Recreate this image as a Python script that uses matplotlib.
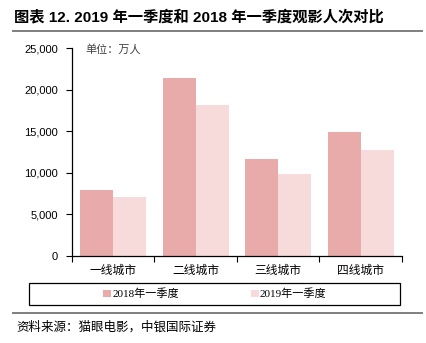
import numpy as np
import matplotlib
matplotlib.use("Agg")
import matplotlib.pyplot as plt
from matplotlib.lines import Line2D
from matplotlib.patches import Rectangle, Patch
from matplotlib.ticker import FuncFormatter

CJK = ["Noto Sans CJK SC", "DejaVu Sans"]
plt.rcParams["font.family"] = ["Liberation Sans", "Noto Sans CJK SC"]

categories = ["一线城市", "二线城市", "三线城市", "四线城市"]
series_names = ["2018年一季度", "2019年一季度"]
q1_2018 = [7950, 21450, 11600, 14900]
q1_2019 = [7050, 18150, 9850, 12750]
colors = ["#E9AAAA", "#F7DADA"]

W, H = 427, 343
fig = plt.figure(figsize=(W / 100, H / 100), dpi=100)
ax = fig.add_axes([72 / W, 1 - 256 / H, 330 / W, 208 / H])

x = np.arange(len(categories))
bw = 0.4
ax.bar(x - bw / 2, q1_2018, bw, color=colors[0], edgecolor="none")
ax.bar(x + bw / 2, q1_2019, bw, color=colors[1], edgecolor="none")

ax.set_xlim(-0.5, len(categories) - 0.5)
ax.set_ylim(0, 25000)
ax.set_yticks(np.arange(0, 25001, 5000))
ax.yaxis.set_major_formatter(FuncFormatter(lambda v, _: f"{int(v):,}"))
ax.tick_params(axis="y", direction="out", length=4, width=0.8, labelsize=8, pad=6)

ax.set_xticks(x)
ax.set_xticklabels(categories, fontsize=8.5, family=CJK)
ax.set_xticks(np.arange(-0.5, len(categories)), minor=True)
ax.tick_params(axis="x", which="major", length=0, pad=6)
ax.tick_params(axis="x", which="minor", direction="out", length=4, width=0.8)

for side in ("top", "right"):
    ax.spines[side].set_visible(False)
for side in ("left", "bottom"):
    ax.spines[side].set_linewidth(0.9)
    ax.spines[side].set_color("black")

ax.text(0.04, 0.995, "单位：万人", transform=ax.transAxes, fontsize=8,
        family=CJK, color="#404040", va="center", ha="left")

# title and rules
fig.text(14 / W, 1 - 17 / H, "图表 12. 2019 年一季度和 2018 年一季度观影人次对比",
         fontsize=11, fontweight="bold", family=["Liberation Sans", "Noto Sans CJK SC"],
         va="center", ha="left")
fig.add_artist(Line2D([13 / W, 422 / W], [1 - 31 / H] * 2, color="#7f7f7f", lw=1.4))
fig.add_artist(Line2D([13 / W, 422 / W], [1 - 313 / H] * 2, color="#7f7f7f", lw=1.4))

# legend box
fig.add_artist(Rectangle((29 / W, 1 - 305 / H), 371 / W, 22 / H, transform=fig.transFigure,
                         fill=False, edgecolor="black", lw=0.9))
handles = [Patch(fc=c, ec="none", label=n) for c, n in zip(colors, series_names)]
fig.legend(handles=handles, loc="center", bbox_to_anchor=(215 / W, 1 - 294 / H), ncol=2,
           frameon=False, handlelength=0.7, handleheight=0.7, handletextpad=0.1,
           columnspacing=6.5, prop={"family": ["Liberation Serif", "Noto Sans CJK SC"], "size": 8})

fig.text(16 / W, 1 - 327 / H, "资料来源：猫眼电影，中银国际证券", fontsize=9, style="italic",
         family=CJK, va="center", ha="left")

fig.savefig("out.png", dpi=100)
